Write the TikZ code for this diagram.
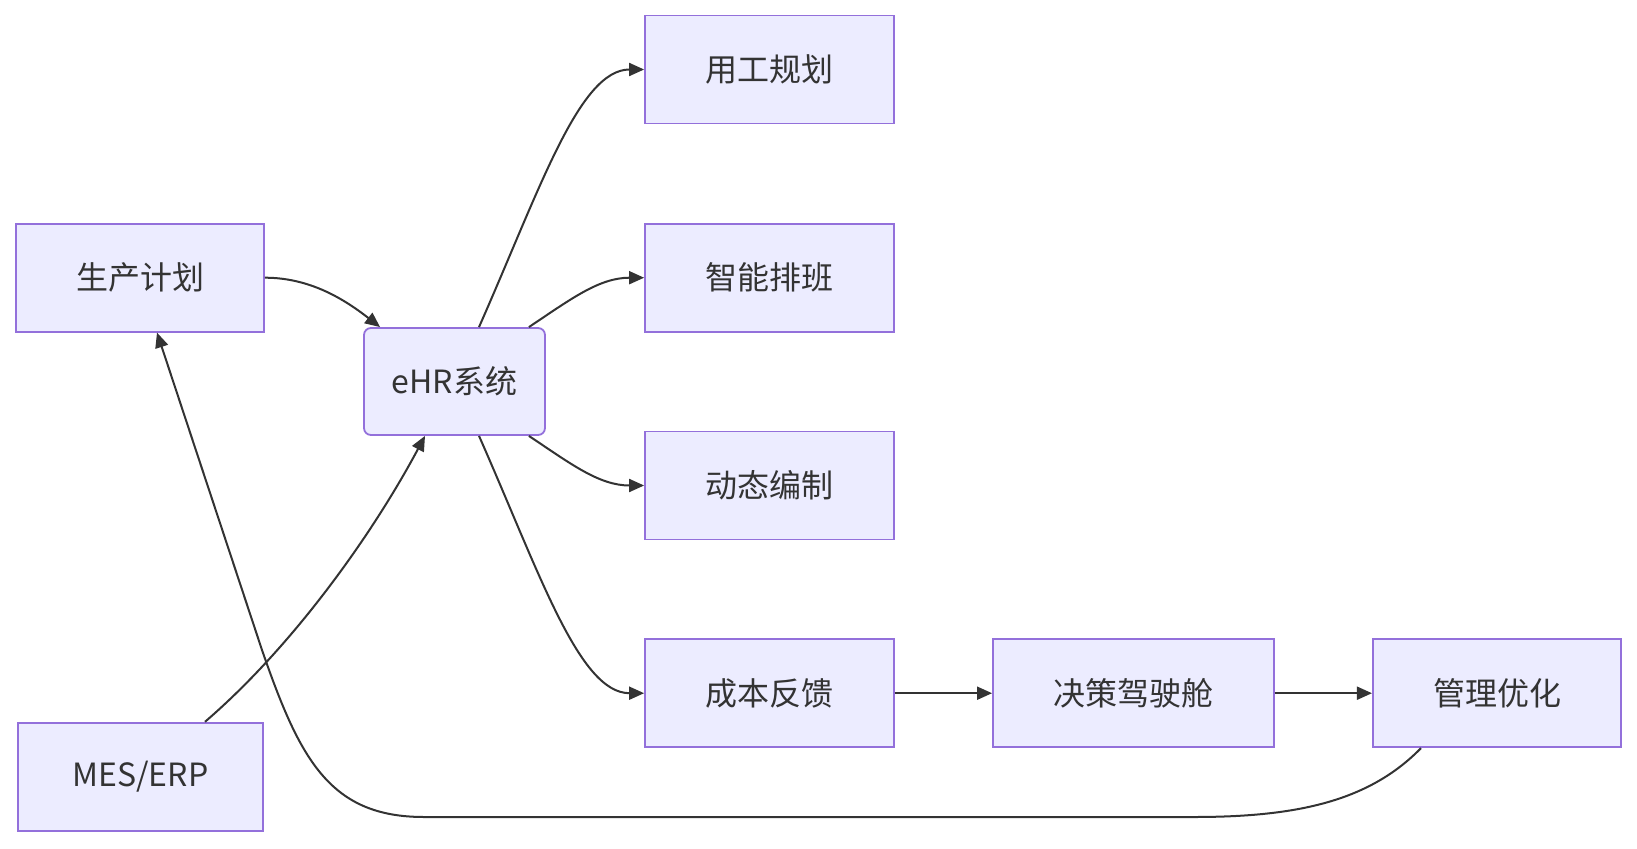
\documentclass[tikz,border=0pt]{standalone}
\usepackage{fontspec}
\setmainfont{Noto Sans CJK SC}
\usetikzlibrary{arrows.meta}
\definecolor{boxfill}{HTML}{ECECFF}
\definecolor{boxline}{HTML}{9370DB}
\definecolor{ink}{HTML}{333333}
\begin{document}
\begin{tikzpicture}[x=1pt,y=-1pt,
  box/.style={draw=boxline, fill=boxfill, line width=1.8pt, minimum height=108pt,
    text=ink, font=\fontsize{32}{38}\selectfont, inner sep=0pt},
  link/.style={draw=ink, line width=2pt, -{Triangle[length=15pt,width=13pt]}}]
\useasboundingbox (0,0) rectangle (1637,848);
\node[box, minimum width=248pt] (jh) at (140,277.7) {生产计划};
\node[box, minimum width=181pt, minimum height=107pt, rounded corners=7pt] (ehr) at (454.5,381.5) {eHR系统};
\node[box, minimum width=248.6pt] (yg) at (769.3,69.5) {用工规划};
\node[box, minimum width=248.6pt] (zn) at (769.3,277.7) {智能排班};
\node[box, minimum width=248.6pt] (dt) at (769.3,485.5) {动态编制};
\node[box, minimum width=248.6pt] (cb) at (769.3,693.2) {成本反馈};
\node[box, minimum width=280.7pt] (jc) at (1133.3,693.2) {决策驾驶舱};
\node[box, minimum width=248.3pt] (gl) at (1497,693.2) {管理优化};
\node[box, minimum width=245.3pt] (mes) at (140.4,776.7) {MES/ERP};

\draw[link] (jh.east) .. controls +(45,0) and +(-36,-28) .. ([xshift=17pt]ehr.north west);
\draw[link] ([xshift=24.5pt]ehr.north) .. controls +(61,-138) and +(-65,0) .. (yg.west);
\draw[link] ([xshift=-17pt]ehr.north east) .. controls +(42,-28) and +(-45,0) .. (zn.west);
\draw[link] ([xshift=-17pt]ehr.south east) .. controls +(42,28) and +(-45,0) .. (dt.west);
\draw[link] ([xshift=24.5pt]ehr.south) .. controls +(61,138) and +(-65,0) .. (cb.west);
\draw[link] (cb.east) -- (jc.west);
\draw[link] (jc.east) -- (gl.west);
\draw[link] ([xshift=64.6pt]mes.north) .. controls +(85,-73) and +(-55,103) .. ([xshift=-29.5pt]ehr.south);
\coordinate (b1) at (1194,817);
\coordinate (b2) at (424,817);
\coordinate (b3) at (262,650);
\draw[link] ([xshift=-76pt]gl.south) .. controls +(-51,52) and +(106,0) .. (b1) -- (b2)
  .. controls +(-94,0) and +(38,110) .. (b3) -- ([xshift=17pt]jh.south);
\end{tikzpicture}
\end{document}
